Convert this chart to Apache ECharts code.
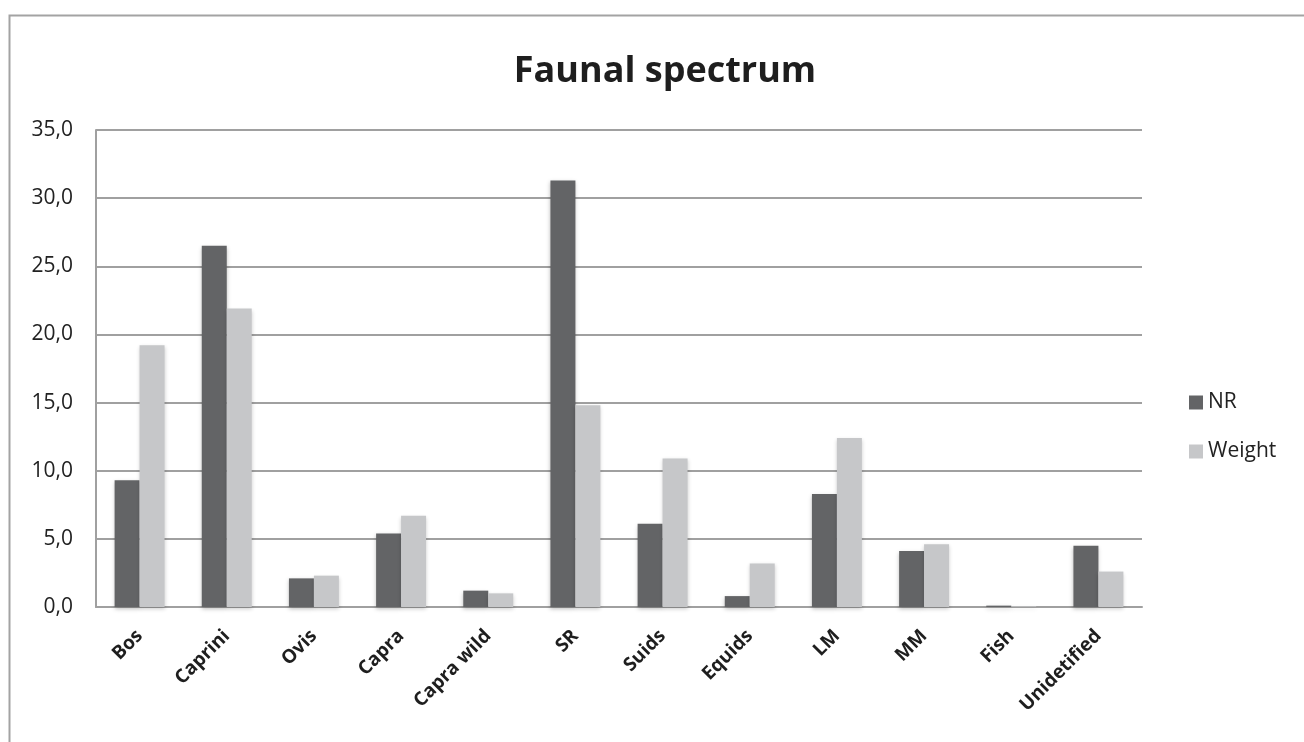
<!DOCTYPE html>
<html>
<head>
<meta charset="utf-8">
<script src="https://cdn.jsdelivr.net/npm/echarts@6/dist/echarts.min.js"></script>
<style>
html,body{margin:0;padding:0;background:#fff;}
#chart{width:1304px;height:742px;}
</style>
</head>
<body>
<div id="chart"></div>
<script>
const categories = ['Bos','Caprini','Ovis','Capra','Capra wild','SR','Suids','Equids','LM','MM','Fish','Unidetified'];
const nrValues = [9.3, 26.5, 2.1, 5.4, 1.2, 31.3, 6.1, 0.8, 8.3, 4.1, 0.1, 4.5];
const weightValues = [19.2, 21.9, 2.3, 6.7, 1.0, 14.8, 10.9, 3.2, 12.4, 4.6, 0.05, 2.6];
const yTicks = [0, 5, 10, 15, 20, 25, 30, 35];

const chart = echarts.init(document.getElementById('chart'));
const font = '"Open Sans", "Liberation Sans", sans-serif';
chart.setOption({
  backgroundColor: '#ffffff',
  animation: false,
  graphic: [{
    type: 'rect',
    shape: {x: 9.5, y: 15.5, width: 1310, height: 800},
    style: {fill: 'none', stroke: '#a3a3a3', lineWidth: 2},
    silent: true
  }],
  title: {
    text: 'Faunal spectrum',
    left: 660, top: 49, textAlign: 'center',
    textStyle: {fontFamily: font, fontWeight: 'bold', fontSize: 36, color: '#1e1e1e'}
  },
  legend: {
    data: ['NR', 'Weight'],
    orient: 'vertical',
    left: 1184, top: 387,
    itemWidth: 14, itemHeight: 14, itemGap: 28,
    icon: 'rect',
    textStyle: {fontFamily: font, fontSize: 21, color: '#222'}
  },
  grid: {left: 96, right: 162, top: 130, bottom: 135, containLabel: false},
  xAxis: {
    type: 'category',
    data: categories,
    axisLine: {lineStyle: {color: '#a0a0a0', width: 2}},
    axisTick: {show: false},
    axisLabel: {
      rotate: 45, margin: 26, interval: 0,
      fontFamily: font, fontWeight: 'bold', fontSize: 19, color: '#1e1e1e'
    }
  },
  yAxis: {
    type: 'value',
    min: 0, max: 35, interval: 5,
    axisLine: {show: true, lineStyle: {color: '#a0a0a0', width: 2}},
    axisTick: {show: false},
    splitLine: {lineStyle: {color: '#a0a0a0', width: 2}},
    axisLabel: {
      margin: 23, fontFamily: font, fontSize: 21, color: '#222',
      formatter: v => yTicks.includes(v) ? v.toFixed(1).replace('.', ',') : ''
    }
  },
  series: [
    {
      name: 'NR', type: 'bar', data: nrValues,
      barGap: '0%', barCategoryGap: '42.7%',
      itemStyle: {color: '#636466', shadowColor: 'rgba(0,0,0,0.25)', shadowBlur: 4, shadowOffsetY: 2}
    },
    {
      name: 'Weight', type: 'bar', data: weightValues,
      barGap: '0%', barCategoryGap: '42.7%',
      itemStyle: {color: '#c6c7c9', shadowColor: 'rgba(0,0,0,0.2)', shadowBlur: 4, shadowOffsetY: 2}
    }
  ]
});
</script>
</body>
</html>
